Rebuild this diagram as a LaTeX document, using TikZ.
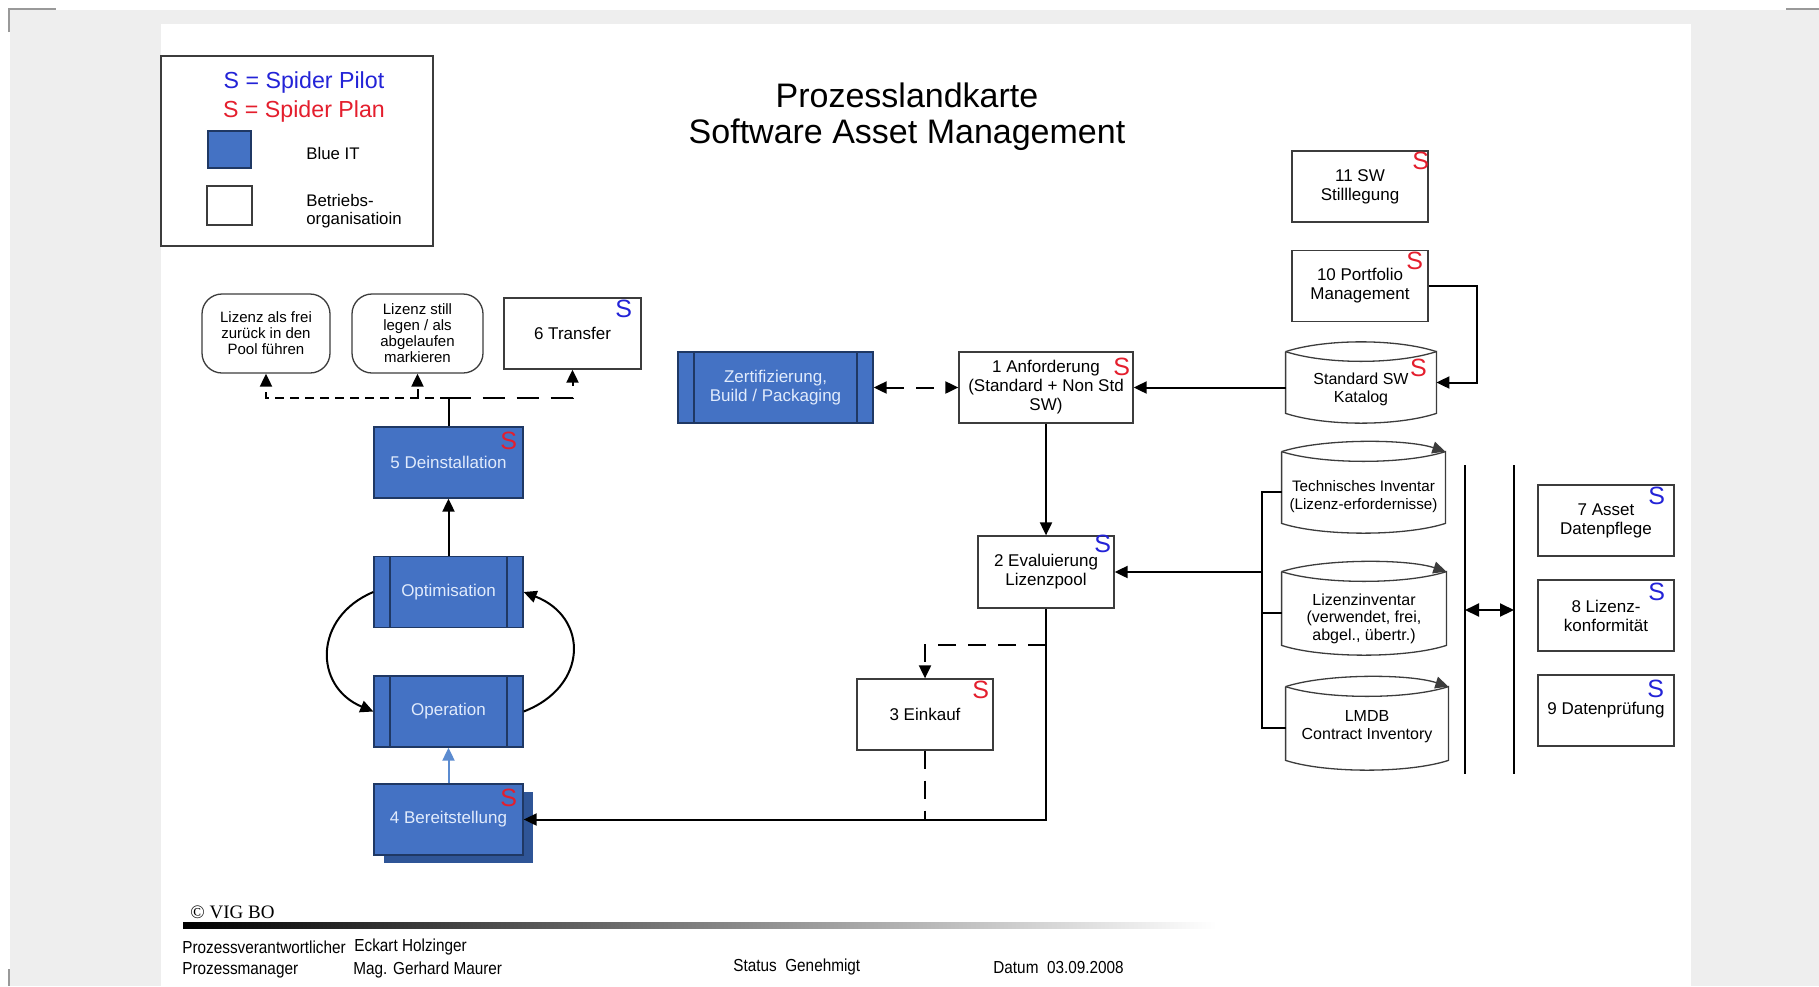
\documentclass[tikz,border=0pt]{standalone}
\usepackage{fontspec}
\setmainfont{Liberation Sans}
\newfontfamily\footsans[FakeStretch=0.88]{Liberation Sans}
\newfontfamily\footserif{Liberation Serif}
\usetikzlibrary{arrows.meta,shadows}

\definecolor{itblue}{RGB}{68,114,196}
\definecolor{itnavy}{RGB}{31,56,100}
\definecolor{itshadow}{RGB}{47,85,151}
\definecolor{boxtext}{RGB}{225,235,252}
\definecolor{sred}{RGB}{228,30,45}
\definecolor{sblue}{RGB}{35,35,215}
\definecolor{pagegray}{RGB}{238,238,238}
\definecolor{linkblue}{RGB}{91,139,208}
\definecolor{edge}{RGB}{60,60,60}

\newcommand\drumoutline[2][]{%
  \draw[drumline] (#2.north west) -- (#2.south west)
    .. controls +(40,13) and +(-40,13) .. (#2.south east) -- (#2.north east)
    .. controls +(-40,13) and +(40,13) .. (#2.north west);
  \draw[drumline,#1] (#2.north west) .. controls +(40,-13) and +(-40,-13) .. (#2.north east);
}

\tikzset{
  tip/.tip={Triangle[length=6.5pt,width=6pt]},
  box/.style={draw=edge, line width=0.65pt, fill=white, minimum width=68pt,
    minimum height=35.5pt, inner sep=1pt, align=center,
    font=\fontsize{8.5}{9.5}\selectfont},
  bluebox/.style={box, fill=itblue, draw=itnavy, text=boxtext},
  subproc/.style={bluebox, path picture={
    \draw[itnavy, line width=0.65pt]
      ([xshift=8pt]path picture bounding box.north west) -- ([xshift=8pt]path picture bounding box.south west)
      ([xshift=-8pt]path picture bounding box.north east) -- ([xshift=-8pt]path picture bounding box.south east);}},
  roundbox/.style={box, rounded corners=10pt, minimum height=39.5pt,
    font=\fontsize{7.5}{8}\selectfont},
  drum/.style={minimum height=35.5pt, inner sep=0pt},
  drumtext/.style={align=center, font=\fontsize{8}{8.7}\selectfont},
  drumline/.style={draw=edge, line width=0.65pt},
  sr/.style={text=sred, font=\fontsize{12.5}{12.5}\selectfont, inner sep=0pt},
  sb/.style={text=sblue, font=\fontsize{12.5}{12.5}\selectfont, inner sep=0pt},
  line/.style={line width=1pt, black},
  arr/.style={line, -tip},
  foot/.style={inner sep=0pt, anchor=west, font=\footsans\fontsize{8.7}{9}\selectfont},
}

\begin{document}
\begin{tikzpicture}[x=0.5pt, y=-0.5pt]
\useasboundingbox (0,0) rectangle (1819,986);

% page background
\fill[pagegray] (10,10) rectangle (1819,986);
\fill[white] (161,24) rectangle (1691,986);
\draw[gray!80, line width=1.2pt] (9,32) -- (9,9) -- (56,9);
\draw[gray!80, line width=1.2pt] (1786,9) -- (1819,9);
\draw[gray!80, line width=1.2pt] (9,969) -- (9,986);

% legend
\node[draw=edge, line width=0.65pt, minimum width=136pt, minimum height=95pt] (legend) at (297,151) {};
\node[text=sblue, font=\fontsize{11.6}{12}\selectfont] (lgpilot) at (304,82) {S = Spider Pilot};
\node[text=sred, font=\fontsize{11.6}{12}\selectfont] (lgplan) at (304,111) {S = Spider Plan};
\node[fill=itblue, draw=itnavy, line width=0.65pt, minimum width=21.5pt, minimum height=18.5pt] (lgblue) at (229.5,149.5) {};
\node[draw=edge, line width=0.65pt, minimum width=22.5pt, minimum height=19.5pt] (lgwhite) at (229.5,205.5) {};
\node[anchor=west, inner sep=0pt, font=\fontsize{8.4}{9.3}\selectfont] (lgbluetxt) at (306,153) {Blue IT};
\node[anchor=west, inner sep=0pt, align=left, font=\fontsize{8.4}{9.3}\selectfont] (lgwhitetxt) at (306,211) {Betriebs-\\organisatioin};

% title
\node[align=center, font=\fontsize{17}{18}\selectfont] (title) at (907,116.5) {Prozesslandkarte\\Software Asset Management};

% top right
\node[box] (sw11) at (1360,186.5) {11 SW\\Stilllegung};
\node[box] (pf10) at (1360,286) {10 Portfolio\\Management};
\node[drum, minimum width=75pt, minimum height=30.5pt,
  label={[drumtext, yshift=-3.5pt]center:{Standard SW\\Katalog}}] (kat) at (1361,382.5) {};
\drumoutline{kat}

% request chain
\node[subproc, minimum width=97.5pt] (zert) at (775.5,387.5) {Zertifizierung,\\Build / Packaging};
\node[box, minimum width=87pt] (a1) at (1046,387.5) {1 Anforderung\\(Standard + Non Std\\SW)};
\node[box, minimum height=36pt] (e2) at (1046,572) {2 Evaluierung\\Lizenzpool};
\node[box] (e3) at (925,714.5) {3 Einkauf};

% inventories
\node[drum, minimum width=81.5pt,
  label={[drumtext, yshift=-4.5pt, font=\fontsize{7.6}{8.7}\selectfont]center:{Technisches Inventar\\(Lizenz-erfordernisse)}}] (tech) at (1363.5,487.5) {};
\drumoutline[-tip]{tech}
\node[drum, minimum width=82pt, minimum height=36.5pt,
  label={[drumtext, yshift=-5pt]center:{Lizenzinventar\\(verwendet, frei,\\abgel., \"ubertr.)}}] (liz) at (1364,608.5) {};
\drumoutline[-tip]{liz}
\node[drum, minimum width=81pt, minimum height=36.5pt,
  label={[drumtext, yshift=-1.5pt]center:{LMDB\\Contract Inventory}}] (lmdb) at (1367,723.5) {};
\drumoutline[-tip]{lmdb}

% right column
\node[box] (r7) at (1606,520.5) {7 Asset\\Datenpflege};
\node[box] (r8) at (1606,615.5) {8 Lizenz-\\konformit\"at};
\node[box] (r9) at (1606,710.5) {9 Datenpr\"ufung};
\coordinate (v1t) at (1465,465);
\coordinate (v1b) at (1465,774);
\coordinate (v2t) at (1514,465);
\coordinate (v2b) at (1514,774);
\coordinate (v1m) at (1465,610);
\coordinate (v2m) at (1514,610);

% left column
\node[roundbox, minimum width=64pt] (lf) at (266,333.5) {Lizenz als frei\\zur\"uck in den\\Pool f\"uhren};
\node[roundbox, minimum width=65.5pt] (ls) at (417.5,333.5) {Lizenz still\\legen / als\\abgelaufen\\markieren};
\node[box, minimum width=68.5pt] (tr) at (572.5,333.5) {6 Transfer};
\node[bluebox, minimum width=74.5pt] (d5) at (448.5,462.5) {5 Deinstallation};
\node[subproc, minimum width=74.5pt] (opt) at (448.5,592) {Optimisation};
\node[subproc, minimum width=74.5pt] (op) at (448.5,711.5) {Operation};
\node[bluebox, minimum width=74.5pt,
  drop shadow={shadow xshift=5pt, shadow yshift=-4pt, fill=itshadow, opacity=1}] (b4) at (448.5,819.5) {4 Bereitstellung};

% S marks
\node[sr] at ([shift={(-8,11)}]sw11.north east) {S};
\node[sr] at ([shift={(-14,11)}]pf10.north east) {S};
\node[sr] at ([shift={(-18,16)}]kat.north east) {S};
\node[sr] at ([shift={(-12,16)}]a1.north east) {S};
\node[sb] at ([shift={(-12,9)}]e2.north east) {S};
\node[sr] at ([shift={(-13,12)}]e3.north east) {S};
\node[sb] at ([shift={(-18,12)}]tr.north east) {S};
\node[sr] at ([shift={(-15,15)}]d5.north east) {S};
\node[sr] at ([shift={(-15,15)}]b4.north east) {S};
\node[sb] at ([shift={(-18,12)}]r7.north east) {S};
\node[sb] at ([shift={(-18,13)}]r8.north east) {S};
\node[sb] at ([shift={(-19,15)}]r9.north east) {S};

% connectors
\draw[arr] (a1.east -| kat.west) -- (a1.east);
\draw[arr] (pf10.east) -- ++(48,0) |- (kat.east);
\draw[line, dash pattern=on 9pt off 6pt, tip-tip] (zert.east) -- (a1.west);
\draw[arr] (a1.south) -- (e2.north);

\coordinate (bus) at (1262,572);
\draw[line] ([yshift=-2pt]tech.west) -| (bus) |- ([yshift=-2pt]lmdb.west);
\draw[line] ([yshift=-2pt]liz.west) -- ([yshift=-2pt]liz.west -| bus);
\draw[arr] (bus) -- (e2.east);

\draw[line, line width=1.4pt] (v1t) -- (v1b);
\draw[line, line width=1.4pt] (v2t) -- (v2b);
\draw[line, {Triangle[length=7pt,width=6.5pt]}-{Triangle[length=7pt,width=6.5pt]}] (v1m) -- (v2m);

\draw[arr] (e2.south) |- (b4.east);
\draw[arr, dash pattern=on 9pt off 6pt] ([yshift=-18pt]e2.south) -| (e3.north);
\draw[line, dash pattern=on 9pt off 6pt] (e3.south) -- (e3.south |- b4.east);

\draw[line, linkblue, -tip] (b4.north) -- (op.south);
\draw[arr] (opt.north) -- (d5.south);
\draw[arr] (opt.west) .. controls +(-60,25) and +(-60,-25) .. (op.west);
\draw[arr] (op.east) .. controls +(65,-25) and +(65,25) .. (opt.east);

\coordinate (dj) at (448.5,398);
\draw[line] (d5.north) -- (dj);
\draw[arr, dash pattern=on 4.5pt off 3pt] (dj) -| (lf.south);
\draw[arr, dash pattern=on 4.5pt off 3pt] (dj -| ls.south) -- (ls.south);
\draw[arr, dash pattern=on 11pt off 6pt] (dj) -| (tr.south);

% footer
\node[inner sep=0pt, anchor=west, font=\footserif\fontsize{9.5}{10}\selectfont] (copy) at (190,912) {\textcopyright{} VIG BO};
\shade[left color=black, right color=white] (183,922) rectangle (1216,928);
\node[foot] (pvlabel) at (182,947) {Prozessverantwortlicher};
\node[foot] (pvname) at (354,947) {Eckart Holzinger};
\node[foot] (pmlabel) at (182,970) {Prozessmanager};
\node[foot] (pmname) at (353,970) {Mag. Gerhard Maurer};
\node[foot] (status) at (733,967) {Status\ \ Genehmigt};
\node[foot] (datum) at (993,967) {Datum\ \ 03.09.2008};
\end{tikzpicture}
\end{document}
